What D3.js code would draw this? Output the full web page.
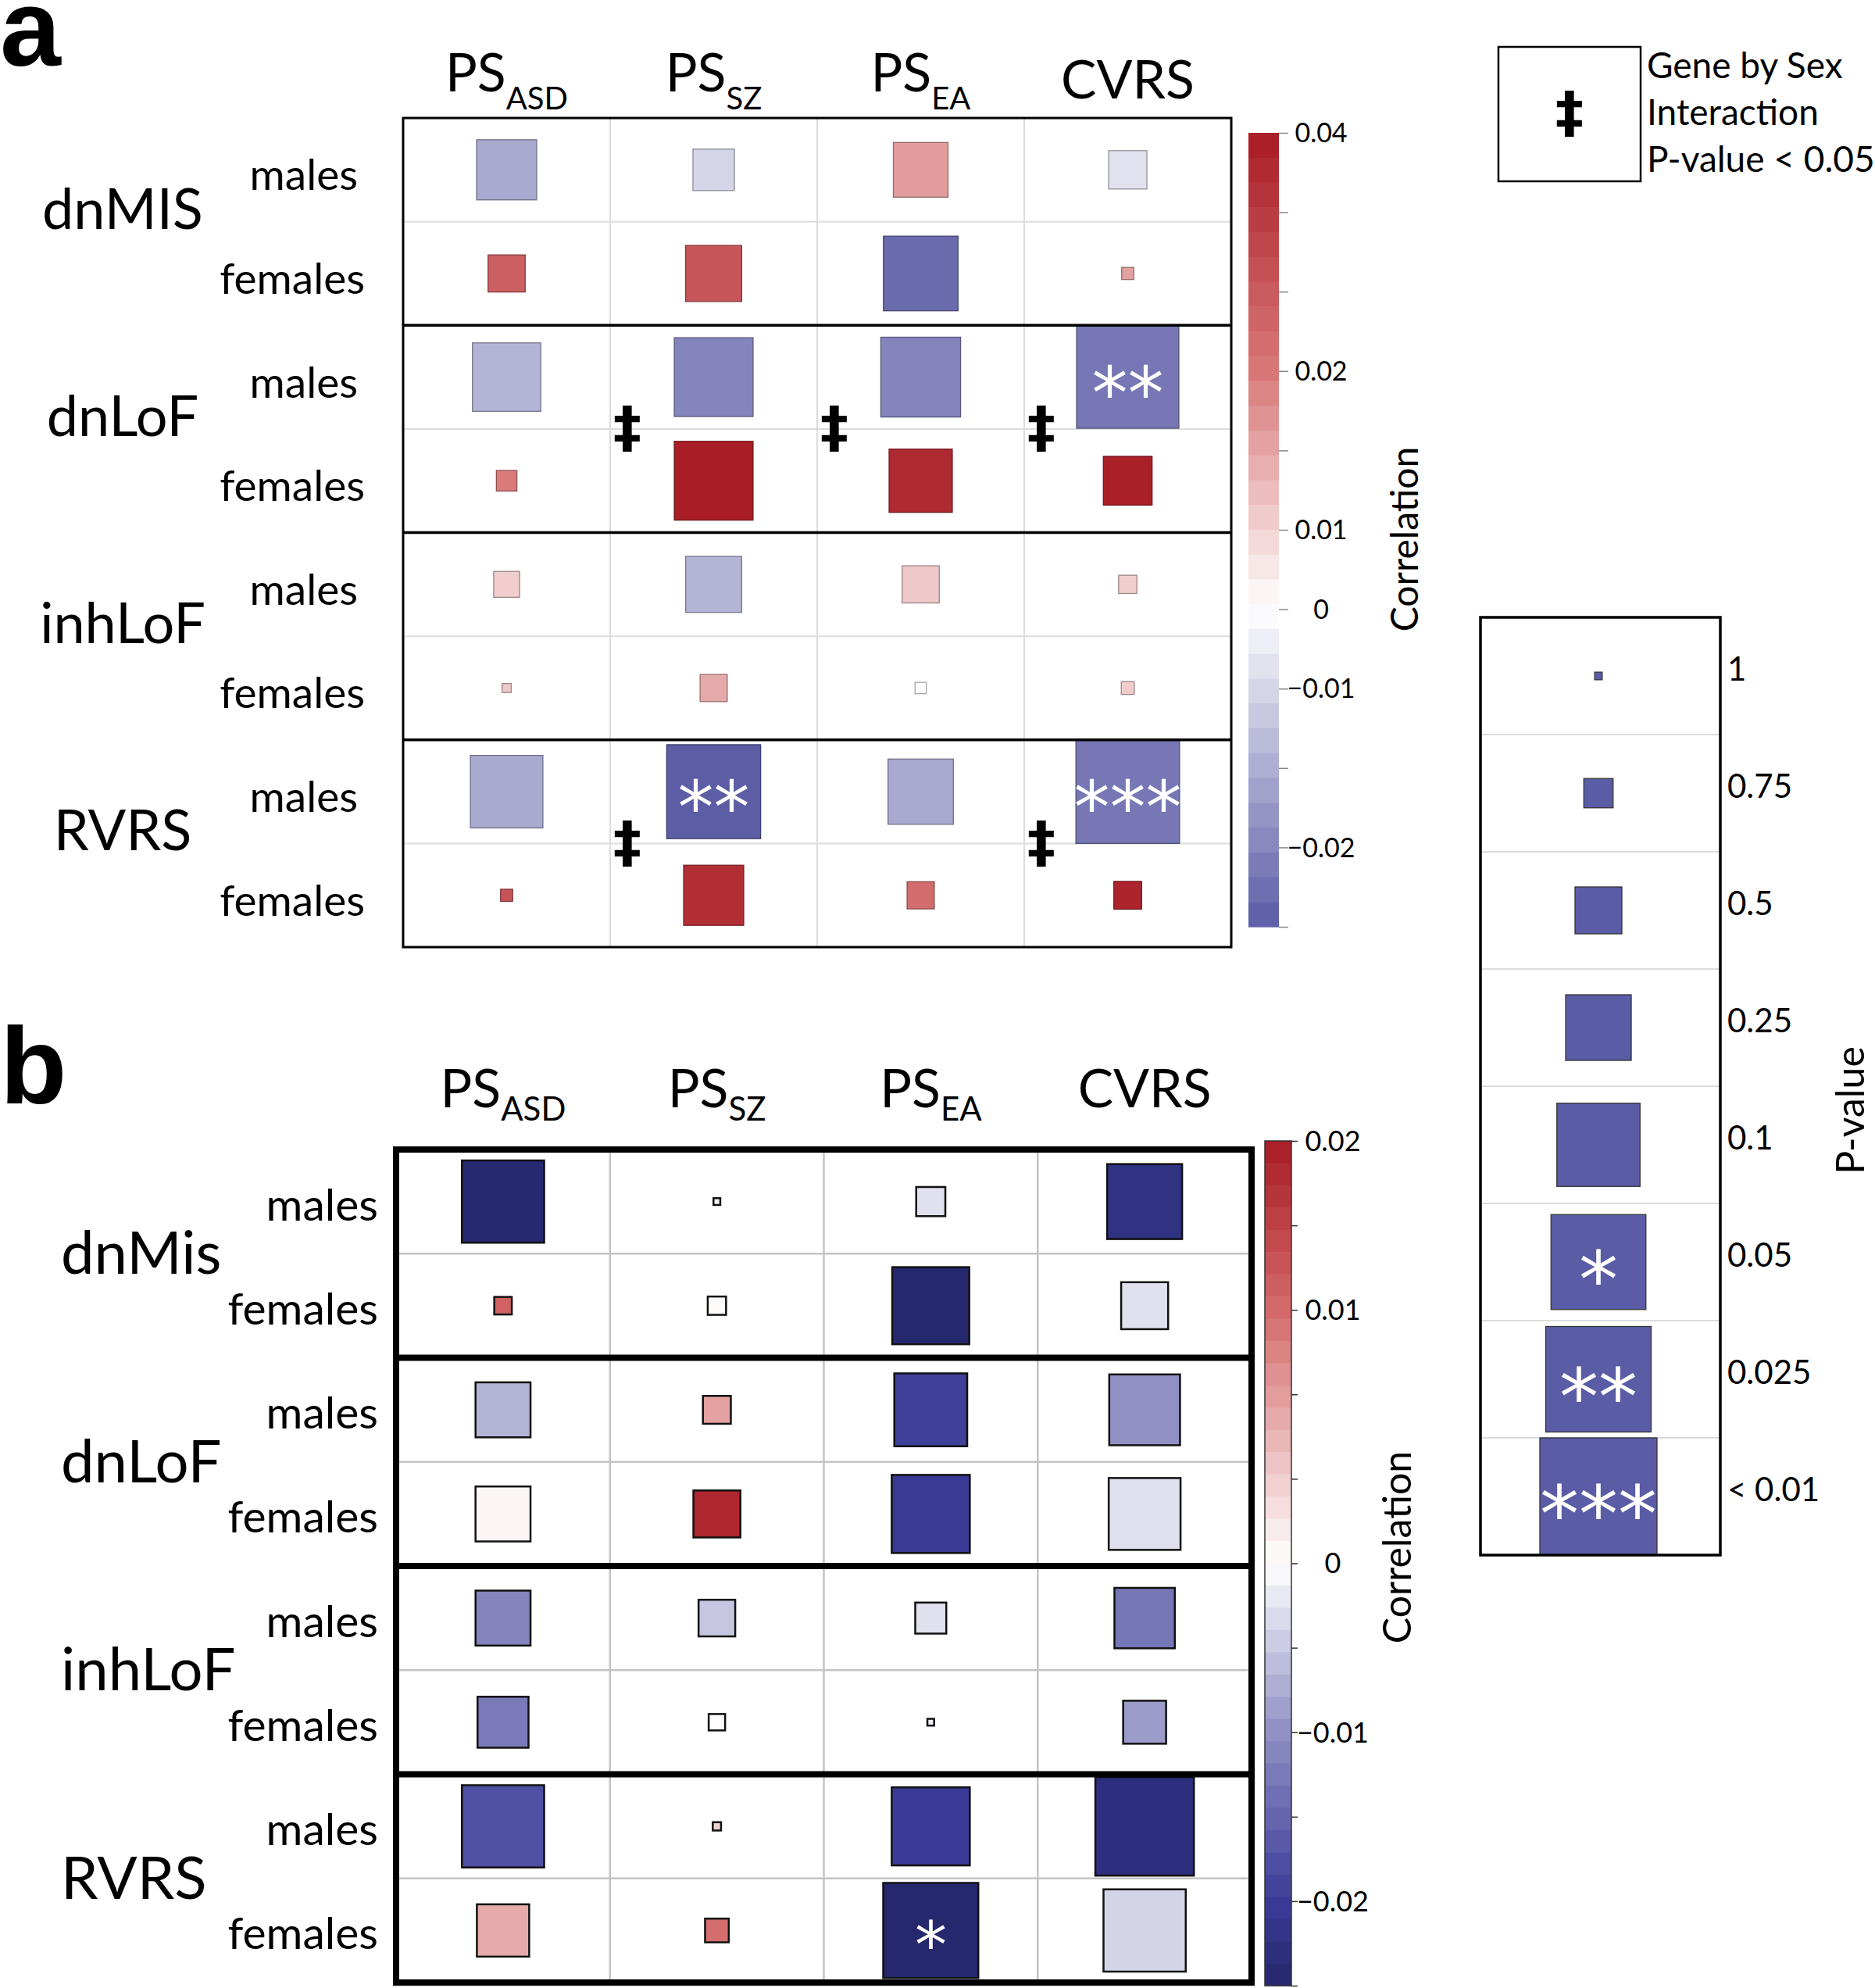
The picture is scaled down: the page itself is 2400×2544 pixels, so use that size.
<!DOCTYPE html>
<html><head><meta charset="utf-8">
<script src="https://cdn.jsdelivr.net/npm/d3@7"></script>
<style>body{margin:0;background:#fff} svg{display:block}</style>
</head><body>
<svg id="chart" width="2400" height="2544" xmlns="http://www.w3.org/2000/svg"></svg>
<script>
// ---------------- DATA ----------------
const colMain = ["PS", "PS", "PS", "CVRS"];
const colSub  = ["ASD", "SZ", "EA", ""];
const groupsA = ["dnMIS", "dnLoF", "inhLoF", "RVRS"];
const groupsB = ["dnMis", "dnLoF", "inhLoF", "RVRS"];
const sexes = ["males", "females"];

// Panel a: 8 rows (group x sex), 4 columns (PS_ASD, PS_SZ, PS_EA, CVRS)
const corrA = [
  [-0.0154, -0.0102,  0.0160, -0.0073],
  [ 0.0253,  0.0273, -0.0232,  0.0155],
  [-0.0141, -0.0200, -0.0200, -0.0217],
  [ 0.0197,  0.0396,  0.0370,  0.0390],
  [ 0.0107, -0.0141,  0.0110,  0.0105],
  [ 0.0110,  0.0145,  0.0005,  0.0107],
  [-0.0154, -0.0249, -0.0154, -0.0217],
  [ 0.0275,  0.0360,  0.0224,  0.0380]
];
const pA = [
  [0.23, 0.50, 0.30, 0.55],
  [0.57, 0.28, 0.095, 0.93],
  [0.15, 0.075, 0.07, 0.012],
  [0.82, 0.075, 0.20, 0.39],
  [0.75, 0.28, 0.57, 0.85],
  [0.97, 0.73, 0.94, 0.92],
  [0.11, 0.024, 0.18, 0.008],
  [0.93, 0.23, 0.73, 0.72]
];
const starsA = [
  [0,0,0,0],[0,0,0,0],[0,0,0,2],[0,0,0,0],
  [0,0,0,0],[0,0,0,0],[0,2,0,3],[0,0,0,0]
];
// gene-by-sex interaction P < 0.05, per group x column
const interA = [
  [0,0,0,0],
  [0,1,1,1],
  [0,0,0,0],
  [0,1,0,1]
];

// Panel b
const corrB = [
  [-0.0245, -0.0005, -0.0028, -0.0225],
  [ 0.0110,  0.0003, -0.0248, -0.0028],
  [-0.0068,  0.0063, -0.0195, -0.0100],
  [ 0.0007,  0.0185, -0.0205, -0.0028],
  [-0.0114, -0.0051, -0.0028, -0.0130],
  [-0.0126,  0.0002, -0.0015, -0.0089],
  [-0.0176,  0.0032, -0.0202, -0.0230],
  [ 0.0057,  0.0097, -0.0248, -0.0039]
];
const pB = [
  [0.06, 1.0, 0.70, 0.095],
  [0.86, 0.85, 0.085, 0.42],
  [0.30, 0.72, 0.11, 0.13],
  [0.30, 0.42, 0.08, 0.12],
  [0.30, 0.58, 0.67, 0.23],
  [0.36, 0.875, 1.0, 0.48],
  [0.06, 0.98, 0.08, 0.018],
  [0.34, 0.78, 0.023, 0.06]
];
const starsB = [
  [0,0,0,0],[0,0,0,0],[0,0,0,0],[0,0,0,0],
  [0,0,0,0],[0,0,0,0],[0,0,0,0],[0,0,1,0]
];

// Colorbar tick labels
const cbTickValsA = [0.04, 0.02, 0.01, 0, -0.01, -0.02];
const cbTickLabsA = ["0.04", "0.02", "0.01", "0", "\u22120.01", "\u22120.02"];
const cbTickValsB = [0.02, 0.01, 0, -0.01, -0.02];
const cbTickLabsB = ["0.02", "0.01", "0", "\u22120.01", "\u22120.02"];

// P-value legend
const legendP = [1, 0.75, 0.5, 0.25, 0.1, 0.05, 0.025, 0.01];
const legendPLabels = ["1", "0.75", "0.5", "0.25", "0.1", "0.05", "0.025", "< 0.01"];
const legendStars = [0, 0, 0, 0, 0, 1, 2, 3];
const interLegendLines = ["Gene by Sex", "Interaction", "P-value < 0.05"];

// ---------------- SCALES ----------------
const sizeScale = d3.scaleLinear()
  .domain([1, 0.75, 0.5, 0.25, 0.1, 0.05, 0.025, 0.01])
  .range([0.065, 0.25, 0.40, 0.56, 0.71, 0.81, 0.90, 1.0])
  .clamp(true);

const valToPosA = d3.scaleLinear().domain([0.04, 0.02, 0.01, 0, -0.01, -0.02, -0.025]).range([0, 3, 5, 6, 7, 9, 10]).clamp(true);
const posColA = d3.scaleLinear().domain([0, 3, 6, 10]).range(["#a81b24", "#d87878", "#ffffff", "#5b5ca5"]);
const valToPosB = d3.scaleLinear().domain([0.02, 0.01, 0, -0.01, -0.02, -0.025]).range([0, 2, 5, 7, 9, 10]).clamp(true);
const posColB = d3.scaleLinear().domain([0, 2, 5, 7, 9, 10]).range(["#a81b24", "#d46a6a", "#ffffff", "#9090c4", "#3a3c98", "#25276c"]);

const svg = d3.select("#chart");
const LBL = "Lato, 'Open Sans', sans-serif";

function drawMatrix(o) {
  const g = svg.append("g");
  const x = d3.scaleBand().domain(d3.range(4)).range([o.left, o.left + o.width]);
  const y = d3.scaleBand().domain(d3.range(8)).range([o.top, o.top + o.height]);
  const bw = x.bandwidth(), bh = y.bandwidth();

  // light grid
  [1, 2, 3].forEach(i => g.append("line")
    .attr("x1", x(i)).attr("x2", x(i)).attr("y1", o.top).attr("y2", o.top + o.height)
    .attr("stroke", o.lightCol).attr("stroke-width", o.lightW));
  [1, 3, 5, 7].forEach(r => g.append("line")
    .attr("x1", o.left).attr("x2", o.left + o.width).attr("y1", y(r)).attr("y2", y(r))
    .attr("stroke", o.lightCol).attr("stroke-width", o.lightW));

  // cells
  const cells = [];
  o.corr.forEach((row, r) => row.forEach((v, c) => cells.push({r, c, v, p: o.p[r][c], s: o.stars[r][c]})));
  g.selectAll("rect.cell").data(cells).join("rect").attr("class", "cell")
    .attr("x", d => x(d.c) + bw / 2 - sizeScale(d.p) * bh / 2)
    .attr("y", d => y(d.r) + bh / 2 - sizeScale(d.p) * bh / 2)
    .attr("width", d => sizeScale(d.p) * bh)
    .attr("height", d => sizeScale(d.p) * bh)
    .attr("fill", d => o.posCol(o.valToPos(d.v)))
    .attr("stroke", d => o.boxStroke || d3.color(o.posCol(o.valToPos(d.v))).darker(1.2))
    .attr("stroke-width", o.boxStrokeW);

  g.selectAll("text.star").data(cells.filter(d => d.s > 0)).join("text").attr("class", "star")
    .attr("x", d => x(d.c) + bw / 2)
    .attr("y", d => y(d.r) + bh / 2 + 0.58 * o.starFs)
    .attr("text-anchor", "middle")
    .attr("font-family", "'DejaVu Sans', sans-serif")
    .attr("font-size", o.starFs)
    .attr("fill", "#fff")
    .text(d => "*".repeat(d.s));

  // thick group lines and frame
  [2, 4, 6].forEach(r => g.append("line")
    .attr("x1", o.left).attr("x2", o.left + o.width).attr("y1", y(r)).attr("y2", y(r))
    .attr("stroke", "#000").attr("stroke-width", o.groupW));
  g.append("rect").attr("x", o.left).attr("y", o.top).attr("width", o.width).attr("height", o.height)
    .attr("fill", "none").attr("stroke", "#000").attr("stroke-width", o.frameW);

  // interactions
  if (o.inter) {
    const list = [];
    o.inter.forEach((row, gi) => row.forEach((f, c) => { if (f) list.push({gi, c}); }));
    g.selectAll("text.inter").data(list).join("text").attr("class", "inter")
      .attr("x", d => x(d.c) + 22)
      .attr("y", d => y(d.gi * 2 + 1) + 0.31 * 72)
      .attr("text-anchor", "middle")
      .attr("font-family", "'DejaVu Sans', sans-serif").attr("font-weight", "bold")
      .attr("font-size", 72).attr("fill", "#000").text("\u2021");
  }

  // column headers
  colMain.forEach((m, c) => {
    const t = g.append("text").attr("x", x(c) + bw / 2)
      .attr("y", colSub[c] ? o.headY : o.headYC)
      .attr("text-anchor", "middle").attr("font-family", LBL).attr("font-size", o.headFs).attr("fill", "#000");
    t.append("tspan").text(m);
    if (colSub[c]) t.append("tspan").attr("dy", o.subDy).attr("font-size", o.subFs).text(colSub[c]);
  });

  // group labels
  o.groups.forEach((gname, gi) => {
    g.append("text").attr("x", o.groupX).attr("y", y(gi * 2) + bh + o.groupDy)
      .attr("text-anchor", o.groupAnchor).attr("font-family", LBL).attr("font-size", o.groupFs).attr("fill", "#000")
      .text(gname);
    sexes.forEach((s, si) => {
      g.append("text").attr("x", o.sexX[si]).attr("y", y(gi * 2 + si) + bh / 2 + o.sexDy)
        .attr("text-anchor", "end").attr("font-family", LBL).attr("font-size", o.sexFs).attr("fill", "#000")
        .text(s);
    });
  });
}

function drawColorbar(o) {
  const g = svg.append("g");
  const pos = d3.scaleLinear().domain([0, 10]).range([o.top, o.bottom]);
  const n = o.nBands, h = (o.bottom - o.top) / n;
  g.selectAll("rect").data(d3.range(n)).join("rect")
    .attr("x", o.x).attr("y", i => o.top + i * h).attr("width", o.w).attr("height", h + 0.6)
    .attr("fill", i => o.posCol((i + 0.5) / n * 10));
  if (o.outline) g.append("rect").attr("x", o.x).attr("y", o.top).attr("width", o.w).attr("height", o.bottom - o.top)
    .attr("fill", "none").attr("stroke", "#333").attr("stroke-width", 1.5);
  const ax = g.append("g").attr("transform", `translate(${o.x + o.w},0)`)
    .call(d3.axisRight(pos).tickValues(d3.range(11)).tickSize(o.tickLen).tickFormat(""));
  ax.select(".domain").remove();
  ax.selectAll("line").attr("stroke", o.tickCol).attr("stroke-width", 1.5);
  o.vals.forEach((v, i) => {
    g.append("text").attr("x", o.labelX).attr("y", pos(o.valToPos(v)) + o.fs * 0.36)
      .attr("text-anchor", "middle").attr("font-family", LBL).attr("font-size", o.fs).attr("fill", "#000")
      .text(o.labs[i]);
  });
  g.append("text").attr("transform", `translate(${o.titleX},${o.titleY}) rotate(-90)`)
    .attr("text-anchor", "middle").attr("font-family", LBL).attr("font-size", o.titleFs).attr("fill", "#000")
    .text("Correlation");
}

// ---------------- PANEL A ----------------
svg.append("text").attr("x", 0).attr("y", 84).attr("font-family", "'Liberation Sans', Arial, sans-serif")
  .attr("font-weight", "bold").attr("font-size", 140).attr("fill", "#000").text("a");

drawMatrix({
  left: 516, top: 151, width: 1060, height: 1061,
  corr: corrA, p: pA, stars: starsA, inter: interA, groups: groupsA,
  valToPos: valToPosA, posCol: posColA,
  lightCol: "#dcdcdc", lightW: 2, groupW: 3.5, frameW: 3,
  boxStroke: null, boxStrokeW: 1.3, starFs: 92,
  headY: 117, headYC: 126, subDy: 23, headFs: 68, subFs: 40,
  groupX: 157, groupAnchor: "middle", groupDy: 9, groupFs: 72,
  sexX: [458, 467], sexDy: 26, sexFs: 55
});

drawColorbar({
  x: 1598, w: 39, top: 170, bottom: 1186, nBands: 32,
  posCol: posColA, valToPos: valToPosA, vals: cbTickValsA, labs: cbTickLabsA,
  tickLen: 12, tickCol: "#888", labelX: 1691, fs: 34, outline: false,
  titleX: 1815, titleY: 690, titleFs: 48
});

// ---------------- PANEL B ----------------
svg.append("text").attr("x", 0).attr("y", 1412).attr("font-family", "'Liberation Sans', Arial, sans-serif")
  .attr("font-weight", "bold").attr("font-size", 140).attr("fill", "#000").text("b");

drawMatrix({
  left: 507, top: 1471, width: 1095, height: 1066,
  corr: corrB, p: pB, stars: starsB, inter: null, groups: groupsB,
  valToPos: valToPosB, posCol: posColB,
  lightCol: "#c4c4c4", lightW: 2.5, groupW: 8, frameW: 8,
  boxStroke: "#111", boxStrokeW: 2.5, starFs: 82,
  headY: 1417, headYC: 1417, subDy: 17, headFs: 68, subFs: 42,
  groupX: 78, groupAnchor: "start", groupDy: 26, groupFs: 76,
  sexX: [484, 484], sexDy: 24, sexFs: 57
});

drawColorbar({
  x: 1619, w: 34, top: 1460, bottom: 2541, nBands: 38,
  posCol: posColB, valToPos: valToPosB, vals: cbTickValsB, labs: cbTickLabsB,
  tickLen: 8, tickCol: "#333", labelX: 1706, fs: 36, outline: true,
  titleX: 1806, titleY: 1980, titleFs: 50
});

// ---------------- LEGENDS ----------------
// Interaction legend
svg.append("rect").attr("x", 1918).attr("y", 60).attr("width", 182).attr("height", 172)
  .attr("fill", "none").attr("stroke", "#000").attr("stroke-width", 2.5);
svg.append("text").attr("x", 2009).attr("y", 146 + 0.31 * 72).attr("text-anchor", "middle")
  .attr("font-family", "'DejaVu Sans', sans-serif").attr("font-weight", "bold").attr("font-size", 72).text("\u2021");
interLegendLines.forEach((t, i) => svg.append("text").attr("x", 2108).attr("y", 100 + i * 60)
  .attr("font-family", LBL).attr("font-size", 46).attr("fill", "#000").text(t));

// P-value legend
(function () {
  const g = svg.append("g");
  const top = 790, bottom = 1990, left = 1895, right = 2202;
  const y = d3.scaleBand().domain(d3.range(legendP.length)).range([top, bottom]);
  const bh = y.bandwidth(), cx = 2046;
  d3.range(1, legendP.length).forEach(i => g.append("line")
    .attr("x1", left).attr("x2", right).attr("y1", y(i)).attr("y2", y(i))
    .attr("stroke", "#dcdcdc").attr("stroke-width", 2));
  const data = legendP.map((p, i) => ({p, i, s: legendStars[i], lab: legendPLabels[i]}));
  g.selectAll("rect.sq").data(data).join("rect").attr("class", "sq")
    .attr("x", d => cx - sizeScale(d.p) * bh / 2).attr("y", d => y(d.i) + bh / 2 - sizeScale(d.p) * bh / 2)
    .attr("width", d => sizeScale(d.p) * bh).attr("height", d => sizeScale(d.p) * bh)
    .attr("fill", "#5b5ca6").attr("stroke", "#333").attr("stroke-width", 1.3);
  g.selectAll("text.st").data(data.filter(d => d.s > 0)).join("text").attr("class", "st")
    .attr("x", cx).attr("y", d => y(d.i) + bh / 2 + 0.58 * 100)
    .attr("text-anchor", "middle").attr("font-family", "'DejaVu Sans', sans-serif")
    .attr("font-size", 100).attr("fill", "#fff").text(d => "*".repeat(d.s));
  g.selectAll("text.lab").data(data).join("text").attr("class", "lab")
    .attr("x", 2211).attr("y", d => y(d.i) + bh / 2 + 6)
    .attr("font-family", LBL).attr("font-size", 42).attr("fill", "#000").text(d => d.lab);
  g.append("rect").attr("x", left).attr("y", top).attr("width", right - left).attr("height", bottom - top)
    .attr("fill", "none").attr("stroke", "#000").attr("stroke-width", 3.5);
  g.append("text").attr("transform", "translate(2386,1421) rotate(-90)").attr("text-anchor", "middle")
    .attr("font-family", LBL).attr("font-size", 50).attr("fill", "#000").text("P-value");
})();
</script>
</body></html>
